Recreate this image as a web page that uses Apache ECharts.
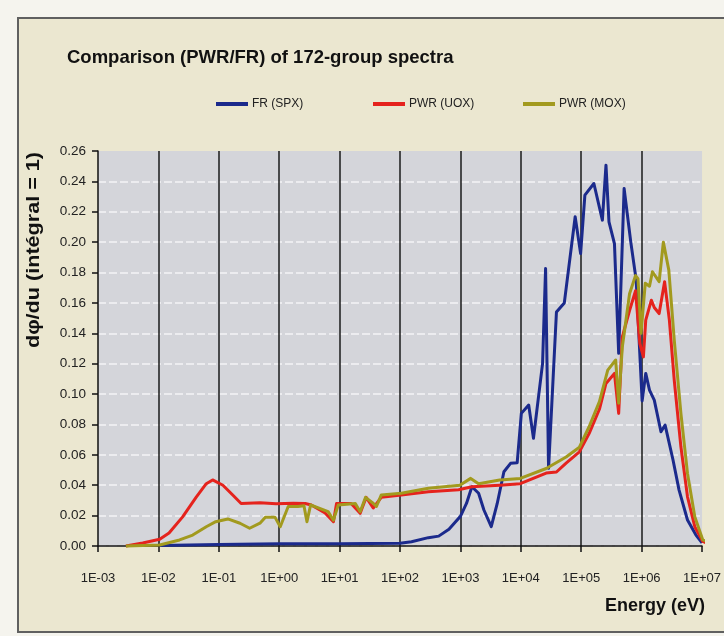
<!DOCTYPE html>
<html><head><meta charset="utf-8">
<script src="https://cdn.jsdelivr.net/npm/echarts@6/dist/echarts.min.js"></script>
<style>html,body{margin:0;padding:0;background:#f5f4ee;} #c{width:724px;height:636px;}</style>
</head><body><div id="c"></div>
<script>
const titleText = 'Comparison (PWR/FR) of 172-group spectra';
const seriesNames = ['FR (SPX)', 'PWR (UOX)', 'PWR (MOX)'];
const seriesColors = ['#1b2a8c', '#e5231d', '#a29a1e'];
const xTickLabels = ['1E-03','1E-02','1E-01','1E+00','1E+01','1E+02','1E+03','1E+04','1E+05','1E+06','1E+07'];
const yAxisTitle = 'd\u03C6/du (int\u00E9gral = 1)';
const xAxisTitle = 'Energy (eV)';

const frEnergy = [1.05e-2, 1e-1, 1, 10, 100, 155, 295, 437, 646, 832, 1000, 1260, 1550, 2000, 2450, 3240, 4070, 5250, 6760, 8710, 1.02e4, 1.35e4, 1.62e4, 2.29e4, 2.57e4, 2.88e4, 3.89e4, 5.25e4, 7.94e4, 9.77e4, 1.15e5, 1.62e5, 2.24e5, 2.57e5, 2.88e5, 3.55e5, 4.17e5, 5.13e5, 6.61e5, 8.13e5, 1.02e6, 1.17e6, 1.35e6, 1.62e6, 2.09e6, 2.45e6, 3.31e6, 4.17e6, 5.75e6, 7.94e6, 1.0e7];
const frValue = [0.0003, 0.0010, 0.0014, 0.0015, 0.0018, 0.0028, 0.0055, 0.0065, 0.011, 0.016, 0.0195, 0.028, 0.039, 0.0347, 0.0237, 0.0127, 0.028, 0.0489, 0.0544, 0.0548, 0.0873, 0.0928, 0.0709, 0.120, 0.1827, 0.0511, 0.154, 0.160, 0.2167, 0.1925, 0.231, 0.2386, 0.2145, 0.2507, 0.2134, 0.199, 0.1268, 0.2353, 0.2002, 0.175, 0.0955, 0.1136, 0.1026, 0.096, 0.0752, 0.0796, 0.0566, 0.0368, 0.0171, 0.0072, 0.002];

const uoxEnergy = [2.9e-3, 5.5e-3, 1.05e-2, 1.5e-2, 2.5e-2, 4.2e-2, 6.2e-2, 7.9e-2, 0.117, 0.17, 0.234, 0.48, 0.89, 1.7, 2.7, 3.4, 5.75, 7.9, 8.9, 15.5, 21.9, 27.5, 36, 49, 105, 295, 933, 1550, 4470, 9800, 2.63e4, 3.89e4, 5.62e4, 9.33e4, 1.35e5, 2.0e5, 2.57e5, 3.55e5, 4.17e5, 4.79e5, 6.31e5, 7.94e5, 9.33e5, 1.07e6, 1.17e6, 1.45e6, 1.62e6, 1.95e6, 2.40e6, 2.88e6, 3.47e6, 4.47e6, 5.75e6, 7.59e6, 1.03e7, 1.45e7];
const uoxValue = [0.0, 0.002, 0.0044, 0.0085, 0.019, 0.032, 0.041, 0.0435, 0.040, 0.0336, 0.028, 0.0285, 0.0278, 0.0282, 0.028, 0.027, 0.0217, 0.016, 0.028, 0.028, 0.0215, 0.032, 0.025, 0.032, 0.0336, 0.0357, 0.037, 0.039, 0.040, 0.041, 0.048, 0.0487, 0.0546, 0.062, 0.074, 0.09, 0.107, 0.1136, 0.0873, 0.1377, 0.155, 0.168, 0.1333, 0.1245, 0.1487, 0.1618, 0.157, 0.153, 0.174, 0.1487, 0.109, 0.0653, 0.0324, 0.0127, 0.003, 0.0005];

const moxEnergy = [2.9e-3, 1.05e-2, 2.24e-2, 3.7e-2, 6.2e-2, 8.9e-2, 0.141, 0.224, 0.324, 0.48, 0.59, 0.85, 1.04, 1.41, 2.04, 2.57, 2.88, 3.31, 6.46, 7.9, 9.5, 18.2, 21.9, 26.9, 36.3, 40.7, 49, 105, 295, 977, 1480, 2000, 4470, 9800, 2.63e4, 5.62e4, 9.33e4, 1.35e5, 2.0e5, 2.75e5, 3.72e5, 4.17e5, 4.79e5, 6.31e5, 7.94e5, 8.7e5, 9.77e5, 1.15e6, 1.35e6, 1.51e6, 1.95e6, 2.29e6, 2.82e6, 3.47e6, 4.47e6, 5.75e6, 7.59e6, 1.03e7, 1.74e7];
const moxValue = [0.0, 0.0007, 0.004, 0.0072, 0.0127, 0.016, 0.0178, 0.015, 0.0117, 0.015, 0.019, 0.019, 0.0127, 0.026, 0.026, 0.0265, 0.016, 0.027, 0.0226, 0.017, 0.027, 0.028, 0.0226, 0.032, 0.028, 0.026, 0.0336, 0.0347, 0.038, 0.040, 0.0445, 0.041, 0.0434, 0.0445, 0.051, 0.0586, 0.065, 0.0785, 0.095, 0.1158, 0.1224, 0.094, 0.131, 0.166, 0.178, 0.176, 0.14, 0.173, 0.171, 0.1805, 0.174, 0.200, 0.1816, 0.1355, 0.0873, 0.0478, 0.0193, 0.004, 0.0007];

const FONT = "'Liberation Sans', Arial, sans-serif";
function zip(a, b) { return a.map((v, i) => [v, b[i]]); }
const dataSets = [zip(frEnergy, frValue), zip(uoxEnergy, uoxValue), zip(moxEnergy, moxValue)];
const legendLefts = [211, 368, 518];

const chart = echarts.init(document.getElementById('c'));
chart.setOption({
  animation: false,
  backgroundColor: 'transparent',
  title: {
    text: titleText, left: 62, top: 43,
    textStyle: { fontFamily: FONT, fontSize: 18.5, fontWeight: 'bold', color: '#111' }
  },
  legend: seriesNames.map((n, i) => ({
    data: [n], left: legendLefts[i], top: 93, icon: 'rect', itemWidth: 32, itemHeight: 4, itemGap: 4,
    textStyle: { fontFamily: FONT, fontSize: 12, color: '#222', padding: [0, 0, 0, -1] }
  })),
  graphic: [
    { type: 'rect', z: -10, shape: { x: 18, y: 18, width: 730, height: 614 },
      style: { fill: '#ebe7d0', stroke: '#606060', lineWidth: 2 } },
    { type: 'text', x: 34, y: 250, rotation: Math.PI / 2, scaleX: 1.2,
      style: { text: yAxisTitle, fontFamily: FONT, fontSize: 18, fontWeight: 'bold', fill: '#111', textAlign: 'center', textVerticalAlign: 'middle' } },
    { type: 'text', x: 705, y: 606,
      style: { text: xAxisTitle, fontFamily: FONT, fontSize: 18, fontWeight: 'bold', fill: '#111', textAlign: 'right', textVerticalAlign: 'middle' } }
  ],
  grid: { left: 98, right: 21, top: 151, bottom: 90, show: true, backgroundColor: '#d4d5da', borderWidth: 0 },
  xAxis: {
    type: 'log', logBase: 10, min: 1e-3, max: 1e7, interval: 1, splitNumber: 10,
    axisLine: { lineStyle: { color: '#111', width: 1.5 } },
    axisTick: { show: true, interval: 0, length: 6, inside: false, lineStyle: { color: '#111', width: 1.5 } },
    axisLabel: {
      interval: 0, margin: 26, fontFamily: FONT, fontSize: 13, color: '#222',
      formatter: v => xTickLabels[Math.round(Math.log10(v)) + 3]
    },
    splitLine: { show: true, interval: 0, showMinLine: false, showMaxLine: false, lineStyle: { color: '#1a1a1a', width: 1.5 } },
    minorTick: { show: false }
  },
  yAxis: {
    type: 'value', min: 0, max: 0.26, interval: 0.02,
    axisLine: { show: true, lineStyle: { color: '#111', width: 1.5 } },
    axisTick: { show: true, length: 6, lineStyle: { color: '#111', width: 1.5 } },
    axisLabel: { margin: 12, fontFamily: FONT, fontSize: 13.5, color: '#222', formatter: v => v.toFixed(2) },
    splitLine: { show: true, showMaxLine: false, lineStyle: { color: '#f4f4f6', width: 1.5, type: [8, 3] } }
  },
  series: dataSets.map((d, i) => ({
    name: seriesNames[i], type: 'line', data: d, symbol: 'none', showSymbol: false, clip: false,
    z: 3 + i,
    itemStyle: { color: seriesColors[i] },
    lineStyle: { color: seriesColors[i], width: 3, join: 'round' }
  }))
});
</script></body></html>
